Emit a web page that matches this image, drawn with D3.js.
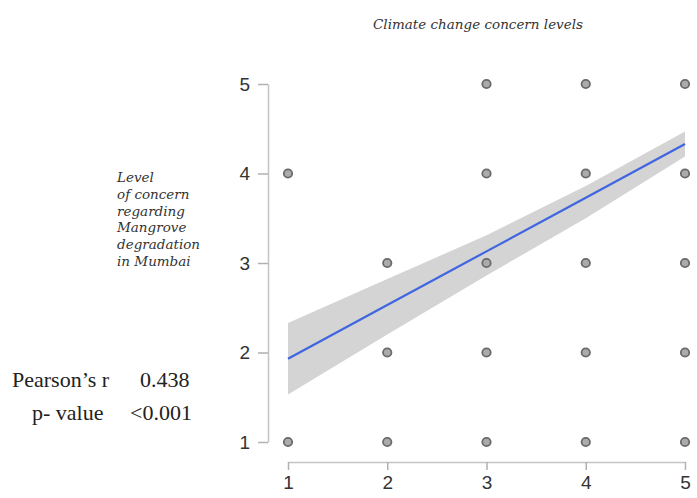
<!DOCTYPE html>
<html>
<head>
<meta charset="utf-8">
<script src="https://cdn.jsdelivr.net/npm/d3@7"></script>
<style>
body { margin: 0; background: #fff; }
svg text { font-family: "Liberation Serif", serif; }
</style>
</head>
<body>
<div id="chart"></div>
<script>
// Width and height of the page
const w = 697;
const h = 498;

// observed answer combinations (climate concern, mangrove concern)
const pointX = [3, 4, 5, 1, 3, 4, 5, 2, 3, 4, 5, 2, 3, 4, 5, 1, 2, 3, 4, 5];
const pointY = [5, 5, 5, 4, 4, 4, 4, 3, 3, 3, 3, 2, 2, 2, 2, 1, 1, 1, 1, 1];

// fitted line and confidence band read at x = 1..5
const fitX = [1, 2, 3, 4, 5];
const fitY = [1.93, 2.53, 3.13, 3.73, 4.33];
const bandLow = [1.53, 2.2, 2.86, 3.5, 4.19];
const bandHigh = [2.33, 2.82, 3.31, 3.86, 4.47];

const ticks = [1, 2, 3, 4, 5];
const yLabelLines = ["Level", "of concern", "regarding", "Mangrove", "degradation", "in Mumbai"];

const svg = d3.select("#chart").append("svg")
  .attr("width", w)
  .attr("height", h);

const x = d3.scaleLinear().domain([1, 5]).range([288, 685]);
const y = d3.scaleLinear().domain([1, 5]).range([442, 84]);

// confidence band
const area = d3.area()
  .x((d, i) => x(fitX[i]))
  .y0((d, i) => y(bandLow[i]))
  .y1((d, i) => y(bandHigh[i]));
svg.append("path")
  .attr("d", area(fitX))
  .attr("fill", "#d4d4d4");

// regression line
const line = d3.line()
  .x((d, i) => x(fitX[i]))
  .y((d, i) => y(fitY[i]));
svg.append("path")
  .attr("d", line(fitX))
  .attr("fill", "none")
  .attr("stroke", "#3f66e0")
  .attr("stroke-width", 2.2);

// points
svg.selectAll("circle")
  .data(pointX)
  .enter()
  .append("circle")
  .attr("cx", d => x(d))
  .attr("cy", (d, i) => y(pointY[i]))
  .attr("r", 4.2)
  .attr("fill", "#ababab")
  .attr("stroke", "#6a6a6a")
  .attr("stroke-width", 1.8);

// y axis
const yAxis = svg.append("g")
  .attr("transform", "translate(268,0)")
  .call(d3.axisLeft(y).tickValues(ticks).tickFormat(d3.format("d")).tickSize(10).tickSizeOuter(0).tickPadding(8));

// x axis
const xAxis = svg.append("g")
  .attr("transform", "translate(0,462)")
  .call(d3.axisBottom(x).tickValues(ticks).tickFormat(d3.format("d")).tickSize(8).tickSizeOuter(0).tickPadding(6));

[yAxis, xAxis].forEach(g => {
  g.select(".domain").attr("stroke", "#c4c4c4").attr("stroke-width", 1.5);
  g.selectAll(".tick line").attr("stroke", "#b0b0b0").attr("stroke-width", 1.5);
  g.selectAll(".tick text")
    .attr("fill", "#333")
    .style("font-family", "'Liberation Sans', Arial, sans-serif")
    .style("font-size", "19px");
});

// title
svg.append("text")
  .attr("x", 478)
  .attr("y", 29)
  .attr("text-anchor", "middle")
  .style("font-family", "'DejaVu Serif', serif")
  .style("font-style", "italic")
  .style("font-size", "13.5px")
  .attr("fill", "#333")
  .text("Climate change concern levels");

// y label
svg.append("text")
  .attr("x", 117)
  .attr("y", 182)
  .style("font-family", "'DejaVu Serif', serif")
  .style("font-style", "italic")
  .style("font-size", "13.5px")
  .attr("fill", "#333")
  .selectAll("tspan")
  .data(yLabelLines)
  .enter()
  .append("tspan")
  .attr("x", 117)
  .attr("dy", (d, i) => i === 0 ? 0 : 16.8)
  .text(d => d);

// statistics
svg.append("text")
  .attr("x", 12)
  .attr("y", 387)
  .style("font-size", "22px")
  .attr("fill", "#222")
  .text("Pearson\u2019s r");
svg.append("text")
  .attr("x", 140)
  .attr("y", 387)
  .style("font-size", "22px")
  .attr("fill", "#222")
  .text("0.438");
svg.append("text")
  .attr("x", 32)
  .attr("y", 420)
  .style("font-size", "22px")
  .attr("fill", "#222")
  .text("p- value");
svg.append("text")
  .attr("x", 130)
  .attr("y", 420)
  .style("font-size", "22px")
  .attr("fill", "#222")
  .text("<0.001");
</script>
</body>
</html>
